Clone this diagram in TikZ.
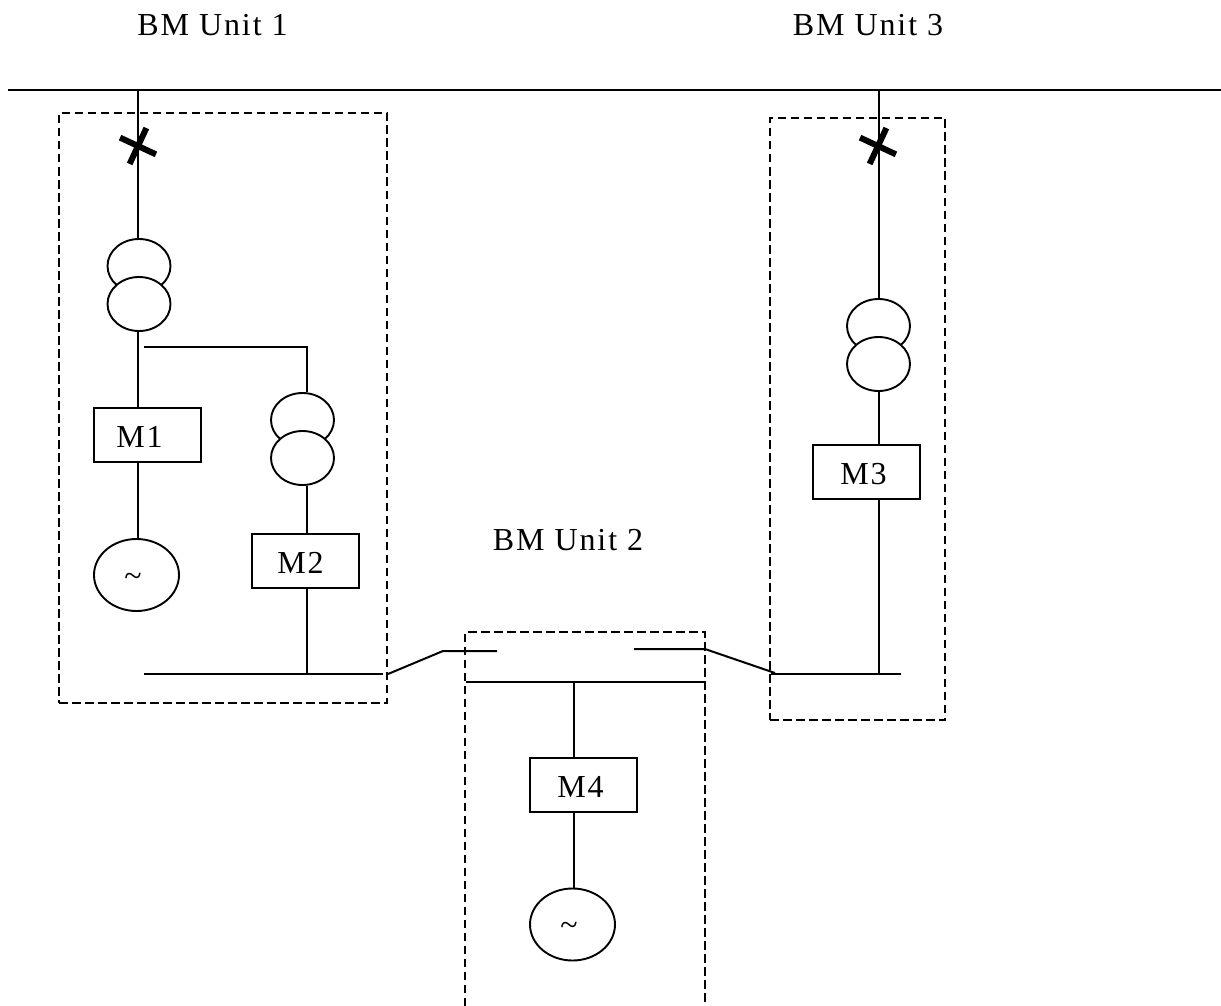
\documentclass[tikz,border=0pt]{standalone}
\usepackage{fontspec}
\setmainfont[LetterSpace=6]{Liberation Serif}
\usetikzlibrary{shapes.geometric,shapes.misc}

\begin{document}
\begin{tikzpicture}[
    x=1pt, y=-1pt,
    wire/.style={line width=2pt},
    zone/.style={line width=1.7pt, dash pattern=on 8.5pt off 4.5pt},
    meter/.style={rectangle, draw, line width=2pt, minimum width=107pt, minimum height=54pt, inner sep=0pt, text height=24pt, text depth=0pt, font=\fontsize{32}{38}\selectfont},
    coil/.style={ellipse, draw, fill=white, line width=1.9pt, minimum width=63pt, minimum height=54pt, inner sep=0pt},
    gen/.style={ellipse, draw, line width=1.9pt, minimum width=85pt, minimum height=72pt, inner sep=0pt, font=\fontsize{32}{38}\selectfont},
    breaker/.style={cross out, draw, line width=6pt, minimum size=28pt, inner sep=0pt, outer sep=0pt, rotate=20},
    unitlabel/.style={font=\fontsize{32}{38}\selectfont}
]
\useasboundingbox (0,0) rectangle (1221,1006);

% unit labels
\node[unitlabel] (unit1) at (212.5,25) {BM Unit 1};
\node[unitlabel] (unit3) at (868,25) {BM Unit 3};
\node[unitlabel] (unit2) at (568,540) {BM Unit 2};

% grid busbar
\coordinate (gridL) at (8,90);
\coordinate (gridR) at (1221,90);
\coordinate (tapA) at (138,90);
\coordinate (tapC) at (879,90);
\draw[wire] (gridL) -- (gridR);

% dashed unit boundaries
\node[zone, draw, rectangle, minimum width=328pt, minimum height=590pt, inner sep=0pt] (zone1) at (223,408) {};
\node[zone, draw, rectangle, minimum width=175pt, minimum height=602pt, inner sep=0pt] (zone3) at (857.5,419) {};
\coordinate (zone2a) at (465,1006);
\coordinate (zone2b) at (465,632);
\coordinate (zone2c) at (705,632);
\coordinate (zone2d) at (705,1006);
\draw[zone] (zone2a) -- (zone2b) -- (zone2c) -- (zone2d);

% unit 1
\node[coil] (t1up) at (139,266) {};
\node[coil] (t1low) at (139,304) {};
\node[breaker] (cb1) at (138,146) {};
\node[meter] (m1) at (147.5,435) {M1\kern16pt};
\node[gen] (g1) at (136.5,575) {\smash{\raisebox{-11pt}{\textasciitilde}}\kern7pt};
\coordinate (tee1) at (144,347);
\coordinate (corner1) at (307,347);
\node[coil] (t2up) at (302.5,420) {};
\node[coil] (t2low) at (302.5,458) {};
\node[meter] (m2) at (305.5,561) {M2\kern10pt};
\coordinate (bus1L) at (144,674);
\coordinate (bus1R) at (383,674);
\coordinate (drop1) at (307,674);

\draw[wire] (tapA) -- (tapA |- t1up.north);
\draw[wire] (tapA |- t1low.south) -- (tapA |- m1.north);
\draw[wire] (tapA |- m1.south) -- (tapA |- g1.north);
\draw[wire] (tee1) -- (corner1) -- (corner1 |- t2up.north);
\draw[wire] (corner1 |- t2low.south) -- (corner1 |- m2.north);
\draw[wire] (corner1 |- m2.south) -- (drop1);
\draw[wire] (bus1L) -- (bus1R);

% unit 3
\node[coil] (t3up) at (878.5,326) {};
\node[coil] (t3low) at (878.5,364) {};
\node[breaker] (cb3) at (878,146) {};
\node[meter] (m3) at (866.5,472) {M3\kern6pt};
\coordinate (bus3L) at (771,674);
\coordinate (bus3R) at (901,674);
\coordinate (drop3) at (879,674);

\draw[wire] (tapC) -- (tapC |- t3up.north);
\draw[wire] (tapC |- t3low.south) -- (tapC |- m3.north);
\draw[wire] (tapC |- m3.south) -- (drop3);
\draw[wire] (bus3L) -- (bus3R);

% unit 2
\coordinate (bus2L) at (466,682);
\coordinate (bus2R) at (704,682);
\coordinate (tap2) at (574,682);
\node[meter] (m4) at (583.5,785) {M4\kern6pt};
\node[gen] (g4) at (572.5,924.5) {\smash{\raisebox{-11pt}{\textasciitilde}}\kern7pt};

\draw[wire] (bus2L) -- (bus2R);
\draw[wire] (tap2) -- (tap2 |- m4.north);
\draw[wire] (tap2 |- m4.south) -- (tap2 |- g4.north);

% open links between the units
\coordinate (linkA) at (388,674);
\coordinate (linkB) at (443,651);
\coordinate (linkC) at (497,651);
\coordinate (linkD) at (634,649);
\coordinate (linkE) at (705,649);
\coordinate (linkF) at (775,673);
\draw[wire] (linkA) -- (linkB) -- (linkC);
\draw[wire] (linkD) -- (linkE) -- (linkF);
\end{tikzpicture}
\end{document}
